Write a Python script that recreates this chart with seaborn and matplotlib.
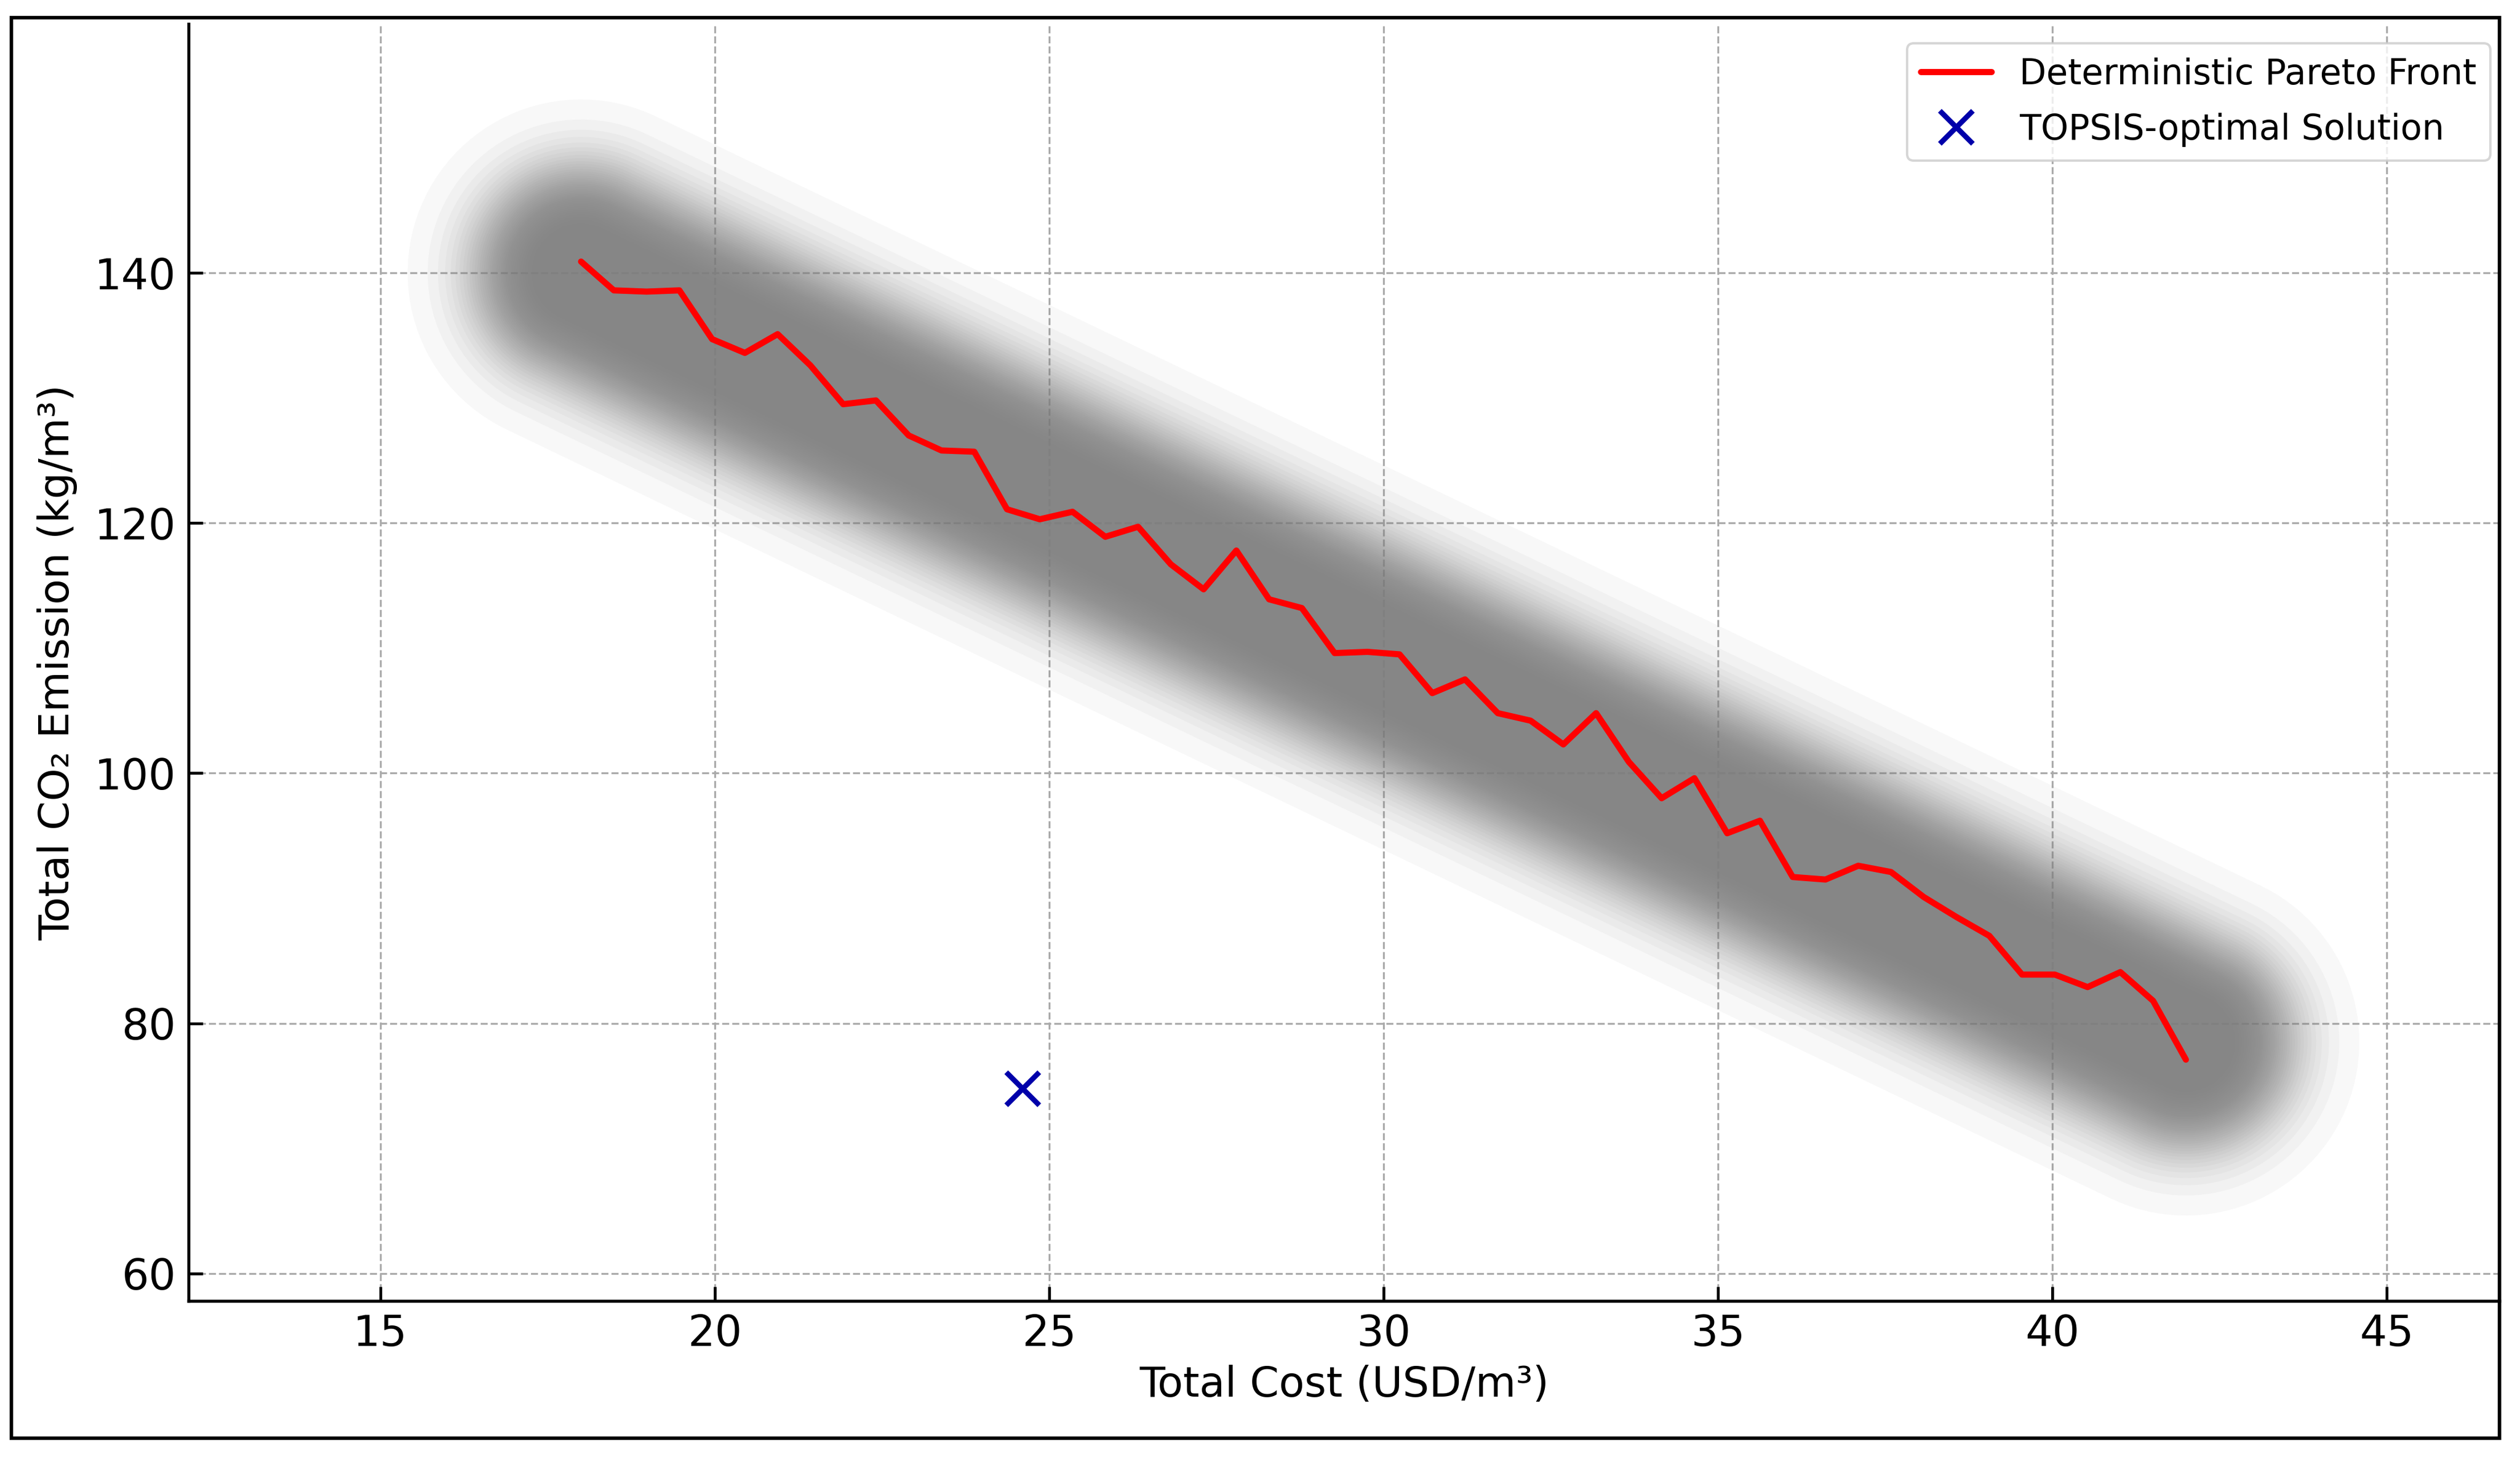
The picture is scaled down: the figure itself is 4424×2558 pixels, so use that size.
import matplotlib
matplotlib.use("Agg")
import matplotlib.pyplot as plt
import seaborn as sns
import numpy as np
from matplotlib.patches import Rectangle

# Deterministic Pareto front
front_cost = [18.00, 18.49, 18.98, 19.47, 19.96, 20.45, 20.94, 21.43, 21.92, 22.41,
              22.90, 23.39, 23.88, 24.37, 24.86, 25.35, 25.84, 26.33, 26.82, 27.31,
              27.80, 28.29, 28.78, 29.27, 29.76, 30.24, 30.73, 31.22, 31.71, 32.20,
              32.69, 33.18, 33.67, 34.16, 34.65, 35.14, 35.63, 36.12, 36.61, 37.10,
              37.59, 38.08, 38.57, 39.06, 39.55, 40.04, 40.53, 41.02, 41.51, 42.00]
front_co2 = [140.9, 138.6, 138.5, 138.6, 134.7, 133.6, 135.1, 132.6, 129.5, 129.8,
             127.0, 125.8, 125.7, 121.1, 120.3, 120.9, 118.9, 119.7, 116.7, 114.7,
             117.8, 113.9, 113.2, 109.6, 109.7, 109.5, 106.4, 107.5, 104.8, 104.2,
             102.3, 104.8, 100.9, 98.0, 99.6, 95.2, 96.2, 91.7, 91.5, 92.6,
             92.1, 90.1, 88.5, 87.0, 83.9, 83.9, 82.9, 84.1, 81.8, 77.1]

# centre line of the grey Monte Carlo cloud
cloud_cost = [18.0, 42.0]
cloud_co2 = [140.0, 78.5]

# TOPSIS-optimal solution
topsis_cost = [24.6]
topsis_co2 = [74.8]

x_ticks = [15, 20, 25, 30, 35, 40, 45]
y_ticks = [60, 80, 100, 120, 140]

sns.set_theme(style="white", rc={
    "axes.edgecolor": "black",
    "axes.labelcolor": "black",
    "text.color": "black",
    "xtick.color": "black",
    "ytick.color": "black",
})
plt.rcParams['font.family'] = ['DejaVu Sans']

DPI = 300
fig = plt.figure(figsize=(4424 / DPI, 2558 / DPI), dpi=DPI)
ax = fig.add_axes([331 / 4424, 1 - 2284 / 2558, (4388 - 331) / 4424, (2284 - 42) / 2558])
ax.set_xlim(12.13, 46.69)
ax.set_ylim(57.81, 159.9)

# grey cloud: stacked translucent strokes around the centre line
p0 = ax.transData.transform((cloud_cost[0], cloud_co2[0]))
p1 = ax.transData.transform((cloud_cost[1], cloud_co2[1]))
dx, dy = p1 - p0
cos_t = abs(dx) / np.hypot(dx, dy)
pt_per_unit = (ax.transData.transform((0, 1))[1] - ax.transData.transform((0, 0))[1]) * 72 / DPI

# density falls off like exp(-((d - 4) / 4.77) ** 1.7) away from the centre
n_layers = 40
for i in range(n_layers):
    frac = (i + 0.5) / n_layers
    half = 4.0 + 4.77 * np.log(1 / frac) ** (1 / 1.7)
    sns.lineplot(x=cloud_cost, y=cloud_co2, ax=ax, color='#808080', alpha=0.055,
                 lw=2 * half * pt_per_unit * cos_t, solid_capstyle='round',
                 legend=False, zorder=2)

sns.lineplot(x=front_cost, y=front_co2, ax=ax, color='red', lw=2.6,
             sort=False, estimator=None, label='Deterministic Pareto Front', zorder=4)
sns.lineplot(x=topsis_cost, y=topsis_co2, ax=ax, linestyle='', marker='x',
             markersize=14, markeredgewidth=2.2, color='#0000aa',
             markeredgecolor='#0000aa', label='TOPSIS-optimal Solution', zorder=5)

ax.set_xticks(x_ticks)
ax.set_yticks(y_ticks)
ax.grid(True, linestyle='--', color='#aaaaaa', linewidth=0.8)
ax.set_axisbelow(True)
ax.tick_params(bottom=True, left=True, direction='in', length=6, width=1.2,
               labelsize=18, pad=5.3)
for side in ['top', 'right']:
    ax.spines[side].set_visible(False)
for side in ['left', 'bottom']:
    ax.spines[side].set_linewidth(1.3)
    ax.spines[side].set_color('black')

ax.set_xlabel('Total Cost (USD/m³)', fontsize=17.6, labelpad=4)
ax.set_ylabel('Total CO₂ Emission (kg/m³)', fontsize=17.6, labelpad=7)

ax.legend(loc='upper right', bbox_to_anchor=(0.9961, 0.9848), borderaxespad=0,
          fontsize=14.8, frameon=True, labelspacing=0.6)

# black frame round the whole figure
fig.add_artist(Rectangle((20 / 4424, 1 - 2525 / 2558), (4388 - 20) / 4424, (2525 - 31) / 2558,
                         transform=fig.transFigure, fill=False, edgecolor='black',
                         linewidth=1.5, zorder=10))

fig.savefig('out.png', dpi=DPI)
